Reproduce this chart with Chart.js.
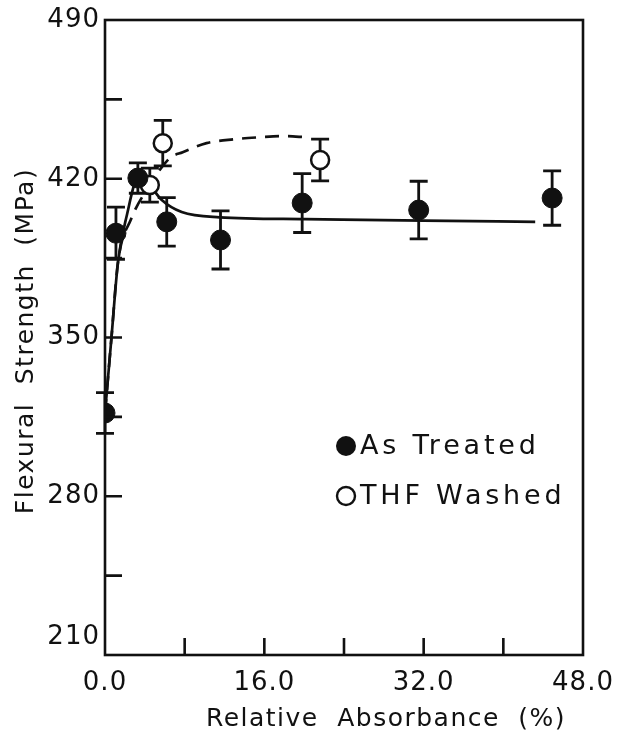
<!DOCTYPE html>
<html>
<head>
<meta charset="utf-8">
<script src="https://cdn.jsdelivr.net/npm/chart.js@4"></script>
<style>
  html, body { margin: 0; padding: 0; background: #fff; }
</style>
</head>
<body>
<canvas id="flexChart" width="621" height="733"></canvas>
<script>
// flexural strength vs relative absorbance, as-treated and THF-washed specimens
const absorbTreated   = [0, 1.1, 3.3, 6.2, 11.6, 19.8, 31.5, 44.9];
const strengthTreated = [316.7, 396, 420.3, 401, 393, 409.3, 406.2, 411.5];
const errTreated      = [9, 11.5, 6.7, 10.7, 12.8, 13, 12.7, 12];

const absorbWashed   = [4.5, 5.8, 21.6];
const strengthWashed = [417.2, 435.7, 428.3];
const errWashed      = [7.5, 10, 9.2];

// hand-drawn trend curves
const trendTreatedX = [0, 0.65, 1.3, 2.2, 3.3, 4.3, 5.7, 7.7, 11.5, 20.1, 32, 43.2];
const trendTreatedY = [316.7, 350, 383, 404, 420, 418, 410.6, 405.3, 403, 402.2, 401.5, 401];
const trendWashedX  = [0, 0.65, 1.3, 2.6, 4.5, 6.5, 7.8, 10.2, 12.9, 15.6, 17.9, 20.3];
const trendWashedY  = [316.7, 350, 383, 402, 417.2, 429.1, 431.7, 435.7, 437.4, 438.3, 438.8, 438.3];

const xTickLabels = [0, 16, 32, 48];
const yTickLabels = [210, 280, 350, 420, 490];

const xTitle = 'Relative Absorbance (%)';
const yTitle = 'Flexural Strength (MPa)';
const legendNames = ['As Treated', 'THF Washed'];

const ink = '#111';
const fontFamily = '"DejaVu Sans", sans-serif';

function pts(xs, ys) {
  return xs.map((v, i) => ({ x: v, y: ys[i] }));
}

const paperPlugin = {
  id: 'paper',
  beforeDatasetsDraw(chart) {
    const { ctx, scales: { x, y } } = chart;
    ctx.save();
    ctx.strokeStyle = ink;
    ctx.lineWidth = 2.8;
    const drawBars = (xs, ys, es) => {
      xs.forEach((v, i) => {
        const px = x.getPixelForValue(v);
        const top = y.getPixelForValue(ys[i] + es[i]);
        const bot = y.getPixelForValue(ys[i] - es[i]);
        ctx.beginPath();
        ctx.moveTo(px, top); ctx.lineTo(px, bot);
        ctx.moveTo(px - 9, top); ctx.lineTo(px + 9, top);
        ctx.moveTo(px - 9, bot); ctx.lineTo(px + 9, bot);
        ctx.stroke();
      });
    };
    drawBars(absorbTreated, strengthTreated, errTreated);
    drawBars(absorbWashed, strengthWashed, errWashed);
    ctx.restore();
  },
  afterDraw(chart) {
    const { ctx, chartArea: a, scales: { x, y } } = chart;
    ctx.save();
    ctx.strokeStyle = ink;
    ctx.fillStyle = ink;
    ctx.lineWidth = 2.6;
    ctx.strokeRect(a.left, a.top, a.right - a.left, a.bottom - a.top);

    // inward ticks
    ctx.beginPath();
    x.ticks.forEach(t => {
      if (t.value === x.min || t.value === x.max) return;
      const px = x.getPixelForValue(t.value);
      ctx.moveTo(px, a.bottom); ctx.lineTo(px, a.bottom - 17);
    });
    y.ticks.forEach(t => {
      if (t.value === y.min || t.value === y.max) return;
      const py = y.getPixelForValue(t.value);
      ctx.moveTo(a.left, py); ctx.lineTo(a.left + 17, py);
    });
    ctx.stroke();

    // tick labels
    ctx.font = '26px ' + fontFamily;
    ctx.letterSpacing = '1px';
    ctx.textAlign = 'center';
    ctx.textBaseline = 'middle';
    xTickLabels.forEach(v => {
      ctx.fillText(v.toFixed(1), x.getPixelForValue(v), a.bottom + 28);
    });
    ctx.textAlign = 'right';
    yTickLabels.forEach(v => {
      let py = y.getPixelForValue(v);
      if (v === y.min) py -= 18;
      ctx.fillText(String(v), a.left - 5, py);
    });

    // axis titles
    ctx.font = '25px ' + fontFamily;
    ctx.letterSpacing = '1.5px';
    ctx.wordSpacing = '9px';
    ctx.textAlign = 'center';
    ctx.fillText(xTitle, 386, 719);
    ctx.save();
    ctx.translate(26, 341);
    ctx.rotate(-Math.PI / 2);
    ctx.fillText(yTitle, 0, 0);
    ctx.restore();
    ctx.wordSpacing = '0px';

    // legend inside the plot
    ctx.font = '27px ' + fontFamily;
    ctx.letterSpacing = '3.8px';
    ctx.textAlign = 'left';
    ctx.beginPath();
    ctx.arc(346, 446, 10, 0, Math.PI * 2);
    ctx.fill();
    ctx.fillText(legendNames[0], 360, 447);
    ctx.beginPath();
    ctx.lineWidth = 2.4;
    ctx.arc(346, 496, 9, 0, Math.PI * 2);
    ctx.stroke();
    ctx.fillText(legendNames[1], 360, 497);
    ctx.restore();
  }
};

new Chart(document.getElementById('flexChart'), {
  type: 'scatter',
  data: {
    datasets: [
      {
        label: legendNames[0],
        data: pts(absorbTreated, strengthTreated),
        pointRadius: 10,
        pointBackgroundColor: ink,
        pointBorderColor: ink,
        pointBorderWidth: 1,
        showLine: false,
        order: 0
      },
      {
        label: legendNames[1],
        data: pts(absorbWashed, strengthWashed),
        pointRadius: 9,
        pointBackgroundColor: '#fff',
        pointBorderColor: ink,
        pointBorderWidth: 2.5,
        showLine: false,
        order: 0
      },
      {
        label: 'treated trend',
        data: pts(trendTreatedX, trendTreatedY),
        showLine: true,
        pointRadius: 0,
        borderColor: ink,
        borderWidth: 2.7,
        cubicInterpolationMode: 'monotone',
        order: 2
      },
      {
        label: 'washed trend',
        data: pts(trendWashedX, trendWashedY),
        showLine: true,
        pointRadius: 0,
        borderColor: ink,
        borderWidth: 2.7,
        borderDash: [14, 9],
        cubicInterpolationMode: 'monotone',
        order: 2
      }
    ]
  },
  options: {
    responsive: false,
    animation: false,
    events: [],
    layout: { padding: { left: 0, top: 20, right: 38, bottom: 0 } },
    plugins: { legend: { display: false }, tooltip: { enabled: false } },
    scales: {
      x: {
        type: 'linear', min: 0, max: 48,
        ticks: { stepSize: 8, display: false },
        grid: { display: false },
        border: { display: false },
        afterFit(s) { s.height = 78; }
      },
      y: {
        type: 'linear', min: 210, max: 490,
        ticks: { stepSize: 35, display: false },
        grid: { display: false },
        border: { display: false },
        afterFit(s) { s.width = 105; }
      }
    }
  },
  plugins: [paperPlugin]
});
</script>
</body>
</html>
